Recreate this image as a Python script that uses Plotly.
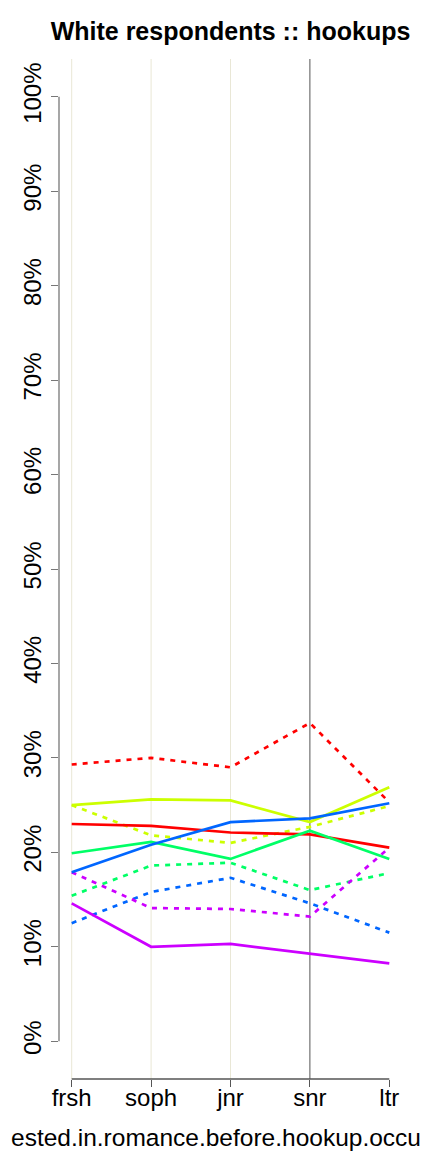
import plotly.graph_objects as go

# ---- data (percent) ----
categories = ["frsh", "soph", "jnr", "snr", "ltr"]

red_solid = [23.0, 22.8, 22.1, 21.9, 20.5]
red_dash = [29.3, 30.0, 29.0, 33.7, 25.3]
yellow_solid = [25.0, 25.6, 25.5, 23.2, 26.9]
yellow_dash = [25.0, 21.8, 21.0, 22.7, 24.9]
green_solid = [19.9, 21.1, 19.3, 22.3, 19.3]
green_dash = [15.4, 18.6, 18.9, 16.0, 17.8]
blue_solid = [17.9, 20.8, 23.2, 23.6, 25.2]
blue_dash = [12.5, 15.8, 17.3, 14.6, 11.5]
purple_solid = [14.6, 10.0, 10.3, 9.3, 8.25]
purple_dash = [17.9, 14.1, 14.0, 13.2, 20.5]

ytick_vals = [0, 10, 20, 30, 40, 50, 60, 70, 80, 90, 100]
ytick_text = [f"{v}%" for v in ytick_vals]

title_text = "White respondents :: hookups"
# the axis title as visible in the (clipped) reference
xtitle_text = "ested.in.romance.before.hookup.occu"

series = [
    ("red dashed", red_dash, "#FF0000", "5px,6px"),
    ("yellow dashed", yellow_dash, "#CCFF00", "5px,6px"),
    ("green dashed", green_dash, "#00FF66", "5px,6px"),
    ("blue dashed", blue_dash, "#0066FF", "5px,6px"),
    ("purple dashed", purple_dash, "#CC00FF", "5px,6px"),
    ("red", red_solid, "#FF0000", "solid"),
    ("yellow", yellow_solid, "#CCFF00", "solid"),
    ("green", green_solid, "#00FF66", "solid"),
    ("blue", blue_solid, "#0066FF", "solid"),
    ("purple", purple_solid, "#CC00FF", "solid"),
]

fig = go.Figure()

FONT = "Liberation Sans, Arial, Helvetica, sans-serif"

# the page body has an 8px margin: figure occupies page x/y from 8
W, H = 424, 1144
ML, MR, MT, MB = 51, 30, 51, 73
PW, PH = W - ML - MR, H - MT - MB

# vertical guide lines
shapes = []
for i, c in enumerate(categories[:-1]):
    is_snr = c == "snr"
    shapes.append(dict(
        type="line", xref="x", yref="paper", x0=c, x1=c, y0=0, y1=1,
        line=dict(color="#555555" if is_snr else "#E9E7D6", width=1),
        layer="below",
    ))
# R-style axis lines spanning first to last tick
shapes.append(dict(type="line", xref="paper", yref="y", x0=0, x1=0,
                   y0=ytick_vals[0], y1=ytick_vals[-1],
                   line=dict(color="#777777", width=1.3)))
shapes.append(dict(type="line", xref="x", yref="paper", x0=categories[0], x1=categories[-1],
                   y0=0, y1=0, line=dict(color="#555555", width=1.3)))

for name, vals, color, dash in series:
    fig.add_trace(go.Scatter(
        x=categories, y=vals, mode="lines", name=name,
        line=dict(color=color, width=2.7, dash=dash),
        showlegend=False,
    ))

fig.update_layout(
    width=W, height=H,
    margin=dict(l=ML, r=MR, t=MT, b=MB, pad=0, autoexpand=False),
    paper_bgcolor="white", plot_bgcolor="white",
    font=dict(family=FONT, color="black"),
    title=dict(text=f"<b>{title_text}</b>", x=(230.5 - 8) / W, xanchor="center",
               xref="container", yref="container", y=1 - (31 - 8) / H, yanchor="middle",
               font=dict(size=25, family=FONT, color="black")),
    shapes=shapes,
    annotations=[dict(text=xtitle_text, xref="paper", yref="paper", x=(216 - 8 - ML) / PW,
                      y=-(1137 - 1079) / PH,
                      xanchor="center", yanchor="middle", showarrow=False,
                      font=dict(size=24.5, family=FONT, color="black"))],
)

fig.update_xaxes(
    type="category", categoryorder="array", categoryarray=categories,
    range=[-0.16, len(categories) - 1 + 0.16],
    showgrid=False, zeroline=False, showline=False, automargin=False,
    ticks="outside", ticklen=7, tickcolor="#555555", tickwidth=1.3,
    ticklabelstandoff=-10,
    tickfont=dict(size=24, family=FONT, color="black"),
)
fig.update_yaxes(
    range=[-4, 104], automargin=False,
    tickvals=ytick_vals, ticktext=ytick_text, tickangle=-90,
    showgrid=False, zeroline=False, showline=False,
    ticks="outside", ticklen=7, tickcolor="#777777", tickwidth=1.3,
    tickfont=dict(size=24, family=FONT, color="black"),
)

fig.write_html("out.html")
